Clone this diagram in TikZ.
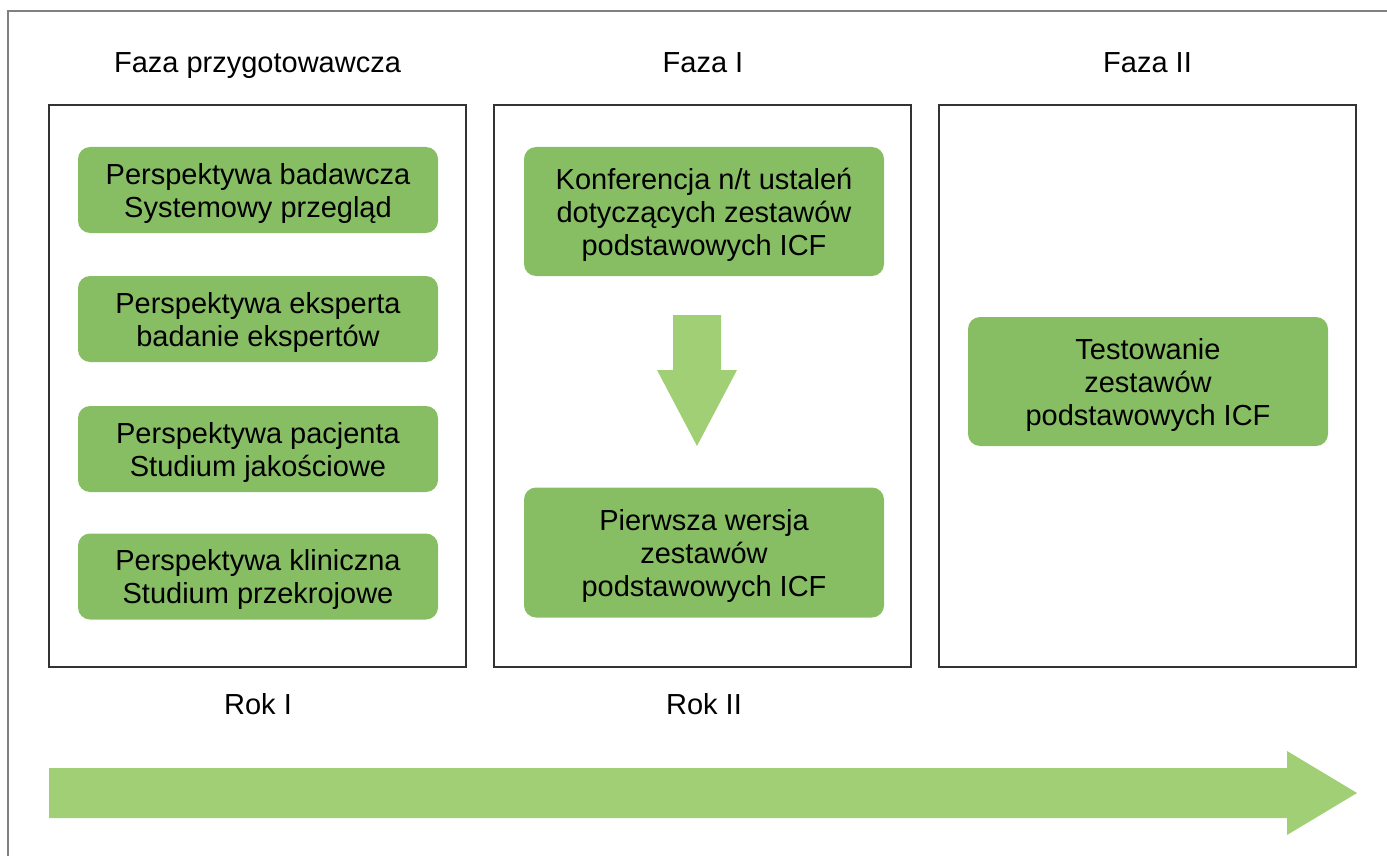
\documentclass[tikz,border=0pt]{standalone}
\usepackage{fontspec}
\setmainfont{Liberation Sans}
\usetikzlibrary{positioning}
\definecolor{boxgreen}{RGB}{135,190,100}
\definecolor{arrowgreen}{RGB}{160,207,118}
\tikzset{
  phasebox/.style={draw=black!80, line width=1pt, minimum width=208.5pt, minimum height=281pt, inner sep=0pt},
  greenbox/.style={fill=boxgreen, rounded corners=6pt, minimum width=180pt, align=center, inner sep=0pt,
                   text depth=0pt, font=\fontsize{14.5pt}{16.5pt}\selectfont},
  headtext/.style={anchor=base, inner sep=0pt, font=\fontsize{14.5pt}{16.5pt}\selectfont}
}
\newcommand{\downblock}{\fill[arrowgreen] (673,315) -- (721,315) -- (721,370) -- (737,370) -- (697,446) -- (657,370) -- (673,370) -- cycle;}

\begin{document}
\begin{tikzpicture}[x=0.5pt, y=-0.5pt]
	\useasboundingbox (0,0) rectangle (1387,856);
	\draw[black!50, line width=1pt] (1387,11) -- (8,11) -- (8,856);

	\node[phasebox] (prep) at (257.5,386) {};
	\node[phasebox] (faza1) at (702.5,386) {};
	\node[phasebox] (faza2) at (1147.5,386) {};

	\node[headtext] (hprep) at (257.5,73) {Faza przygotowawcza};
	\node[headtext] (hfaza1) at (703,73) {Faza I};
	\node[headtext] (hfaza2) at (1147.5,73) {Faza II};

	\node[greenbox, minimum height=43pt] (badawcza) at (258,190) {Perspektywa badawcza\\Systemowy przegląd};
	\node[greenbox, minimum height=43pt] (eksperta) at (258,319) {Perspektywa eksperta\\badanie ekspertów};
	\node[greenbox, minimum height=43pt] (pacjenta) at (258,449) {Perspektywa pacjenta\\Studium jakościowe};
	\node[greenbox, minimum height=43pt] (kliniczna) at (258,576.5) {Perspektywa kliniczna\\Studium przekrojowe};

	\node[greenbox, minimum height=64.5pt] (konferencja) at (704,211.5) {Konferencja n/t ustaleń\\dotyczących zestawów\\podstawowych ICF};
	\downblock
	\node[greenbox, minimum height=65pt] (wersja) at (704,552.5) {Pierwsza wersja\\zestawów\\podstawowych ICF};

	\node[greenbox, minimum height=64.5pt] (testowanie) at (1148,381.5) {Testowanie\\zestawów\\podstawowych ICF};

	\node[headtext] (rok1) at (258,714) {Rok I};
	\node[headtext] (rok2) at (704,714) {Rok II};

	\fill[arrowgreen] (49,768) -- (1287,768) -- (1287,751) -- (1357,793) -- (1287,835) -- (1287,818) -- (49,818) -- cycle;
\end{tikzpicture}
\end{document}
